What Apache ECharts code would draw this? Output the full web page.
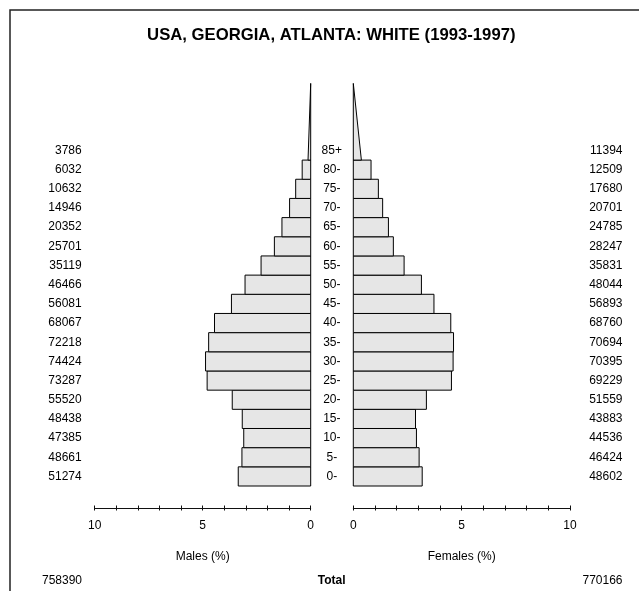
<!DOCTYPE html>
<html><head><meta charset="utf-8">
<script src="https://cdn.jsdelivr.net/npm/echarts/dist/echarts.min.js"></script>
<style>html,body{margin:0;padding:0;background:#fff}#c{width:639px;height:591px}</style>
</head><body><div id="c"></div>
<script>
const chartTitle = 'USA, GEORGIA, ATLANTA: WHITE (1993-1997)';
const ageGroups = ['0-','5-','10-','15-','20-','25-','30-','35-','40-','45-','50-','55-','60-','65-','70-','75-','80-','85+'];
const ageStarts = [0,5,10,15,20,25,30,35,40,45,50,55,60,65,70,75,80,85];
const maleCounts = [51274,48661,47385,48438,55520,73287,74424,72218,68067,56081,46466,35119,25701,20352,14946,10632,6032,3786];
const femaleCounts = [48602,46424,44536,43883,51559,69229,70395,70694,68760,56893,48044,35831,28247,24785,20701,17680,12509,11394];
const maleTotal = 758390;
const femaleTotal = 770166;
const totalLabel = 'Total';
const maleAxisName = 'Males (%)';
const femaleAxisName = 'Females (%)';
const axisMin = 0, axisMax = 10, axisStep = 1;
const labeledTicks = [0, 5, 10];

const FONT = '"Liberation Sans", Arial, Helvetica, sans-serif';
const grand = maleTotal + femaleTotal;
const maleData = ageStarts.map((a, i) => [a, maleCounts[i] / grand * 100, maleCounts[i]]);
const femaleData = ageStarts.map((a, i) => [a, femaleCounts[i] / grand * 100, femaleCounts[i]]);

function makeRender(side) {
  return function (params, api) {
    const idx = params.dataIndex;
    const age = api.value(0), pct = api.value(1);
    const cs = params.coordSys;
    const style = { fill: '#e6e6e6', stroke: '#000', lineWidth: 1 };
    const children = [];
    if (idx < ageGroups.length - 1) {
      const a = api.coord([0, age]), b = api.coord([pct, age + 5]);
      children.push({ type: 'rect', shape: { x: Math.min(a[0], b[0]), y: b[1], width: Math.abs(b[0] - a[0]), height: a[1] - b[1] }, style });
    } else {
      const a = api.coord([0, age]), b = api.coord([pct / 2, age]), c = api.coord([0, age + 20]);
      children.push({ type: 'polygon', shape: { points: [a, b, c] }, style });
    }
    const yc = api.coord([0, age + 2.5])[1];
    const cnt = String(side === 'm' ? maleCounts[idx] : femaleCounts[idx]);
    if (side === 'm') {
      children.push({ type: 'text', x: cs.x - 13, y: yc, style: { text: cnt, align: 'right', verticalAlign: 'middle', font: '12px ' + FONT, fill: '#000' } });
    } else {
      children.push({ type: 'text', x: cs.x + cs.width + 52.5, y: yc, style: { text: cnt, align: 'right', verticalAlign: 'middle', font: '12px ' + FONT, fill: '#000' } });
      children.push({ type: 'text', x: cs.x - 21.5, y: yc, style: { text: ageGroups[idx], align: 'center', verticalAlign: 'middle', font: '12px ' + FONT, fill: '#000' } });
    }
    return { type: 'group', children };
  };
}

function xAxes(grid, inverse, name) {
  const base = {
    gridIndex: grid, type: 'value', min: axisMin, max: axisMax, interval: axisStep, inverse,
    position: 'bottom', offset: 22, splitLine: { show: false }
  };
  return [
    Object.assign({}, base, {
      name, nameLocation: 'middle', nameGap: 43,
      nameTextStyle: { fontFamily: FONT, fontSize: 12, color: '#000' },
      axisLine: { show: true, onZero: false, lineStyle: { color: '#111', width: 1 } },
      axisTick: { show: true, length: 2.5, lineStyle: { color: '#111' } },
      axisLabel: { margin: 12, fontFamily: FONT, fontSize: 12, color: '#000',
        formatter: v => labeledTicks.indexOf(v) >= 0 ? String(v) : '' }
    }),
    Object.assign({}, base, {
      axisLine: { show: false, onZero: false },
      axisTick: { show: true, inside: true, length: 2.5, lineStyle: { color: '#111' } },
      axisLabel: { show: false }
    })
  ];
}

const chart = echarts.init(document.getElementById('c'), null, { renderer: 'canvas' });
chart.setOption({
  animation: false,
  backgroundColor: '#fff',
  grid: [
    { left: 94.7, top: 83.4, width: 216, height: 402.6 },
    { left: 353.3, top: 83.4, width: 216.7, height: 402.6 }
  ],
  xAxis: [].concat(xAxes(0, true, maleAxisName), xAxes(1, false, femaleAxisName)),
  yAxis: [
    { gridIndex: 0, type: 'value', min: 0, max: 105, show: false },
    { gridIndex: 1, type: 'value', min: 0, max: 105, show: false }
  ],
  series: [
    { type: 'custom', xAxisIndex: 0, yAxisIndex: 0, clip: false, encode: { x: 1, y: 0 }, data: maleData, renderItem: makeRender('m') },
    { type: 'custom', xAxisIndex: 2, yAxisIndex: 1, clip: false, encode: { x: 1, y: 0 }, data: femaleData, renderItem: makeRender('f') }
  ],
  graphic: [
    { type: 'rect', shape: { x: 10, y: 10, width: 800, height: 800 }, style: { fill: 'none', stroke: '#222', lineWidth: 1.5 }, silent: true },
    { type: 'text', x: 331.3, y: 35, style: { text: chartTitle, align: 'center', verticalAlign: 'middle', font: 'bold 16.7px ' + FONT, fill: '#000' } },
    { type: 'text', x: 82, y: 580.7, style: { text: String(maleTotal), align: 'right', verticalAlign: 'middle', font: '12px ' + FONT, fill: '#000' } },
    { type: 'text', x: 331.7, y: 580.7, style: { text: totalLabel, align: 'center', verticalAlign: 'middle', font: 'bold 12px ' + FONT, fill: '#000' } },
    { type: 'text', x: 622.5, y: 580.7, style: { text: String(femaleTotal), align: 'right', verticalAlign: 'middle', font: '12px ' + FONT, fill: '#000' } }
  ]
});
</script></body></html>
